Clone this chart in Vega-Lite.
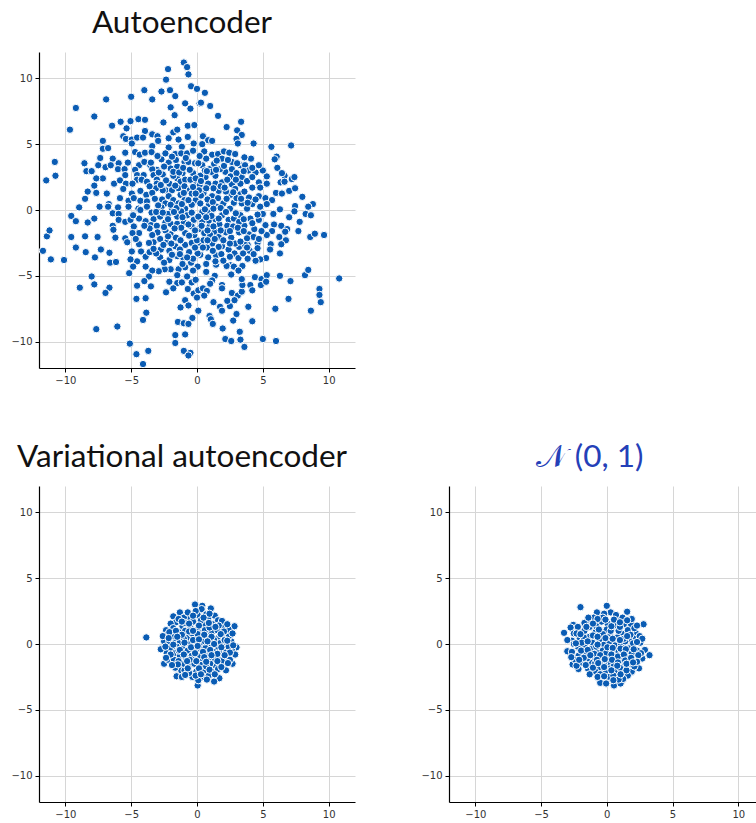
{"$schema":"https://vega.github.io/schema/vega-lite/v6.json","padding":{"left":10,"top":7,"right":0,"bottom":0},"config":{"view":{"stroke":null},"axis":{"domainColor":"#000","domainWidth":1.2,"tickColor":"#000","tickSize":4,"gridColor":"#d6d6d6","gridWidth":1,"labelColor":"#333","labelFont":"DejaVu Sans","labelFontSize":10,"labelPadding":3,"title":null,"grid":true},"title":{"font":"Lato","fontWeight":"normal","fontSize":31.5,"color":"#111","anchor":"middle","offset":13}},
"datasets":{
"a":[{"x":-1.0,"y":11.2},{"x":-0.75,"y":10.85},{"x":-0.65,"y":10.3},{"x":-2.2,"y":10.7},{"x":-2.35,"y":9.9},{"x":-4.0,"y":9.1},{"x":-2.7,"y":9.0},{"x":-2.05,"y":9.1},{"x":-1.65,"y":8.65},{"x":-0.45,"y":9.4},{"x":0,"y":9.2},{"x":0.6,"y":8.9},{"x":0.2,"y":8.1},{"x":-0.9,"y":8.1},{"x":-0.5,"y":7.7},{"x":-2.0,"y":7.8},{"x":-1.7,"y":7.2},{"x":-3.4,"y":8.4},{"x":-5.0,"y":8.6},{"x":-6.9,"y":8.4},{"x":-9.2,"y":7.75},{"x":-7.8,"y":7.1},{"x":-9.65,"y":6.1},{"x":0.3,"y":8.15},{"x":1,"y":7.9},{"x":1.6,"y":7.15},{"x":3.35,"y":6.7},{"x":2.25,"y":6.3},{"x":3.05,"y":6.05},{"x":3.4,"y":5.7},{"x":3,"y":5.4},{"x":3.1,"y":5.05},{"x":4.3,"y":5.05},{"x":5.65,"y":4.8},{"x":7.15,"y":4.9},{"x":-2.55,"y":6.65},{"x":-6.45,"y":6.4},{"x":-5.8,"y":6.7},{"x":-5.05,"y":6.75},{"x":-4.45,"y":6.9},{"x":-3.95,"y":6.85},{"x":-5.35,"y":6.2},{"x":-3.95,"y":6},{"x":-3.4,"y":5.75},{"x":-3,"y":5.6},{"x":-2.95,"y":5.25},{"x":-5.6,"y":5.6},{"x":-5.4,"y":5.4},{"x":-4.95,"y":5.35},{"x":-4.55,"y":5.5},{"x":-4.1,"y":5.5},{"x":-4.95,"y":5.05},{"x":-7.15,"y":5.25},{"x":-7.15,"y":4.65},{"x":-6.75,"y":4.7},{"x":-3.4,"y":4.85},{"x":-2.15,"y":4.75},{"x":-1.8,"y":5.9},{"x":-1.5,"y":6.1},{"x":-0.7,"y":6.4},{"x":-0.2,"y":6.45},{"x":-1.4,"y":5.35},{"x":-0.7,"y":5.55},{"x":-0.25,"y":5.05},{"x":-1.15,"y":4.8},{"x":-2.15,"y":5.45},{"x":-5.45,"y":4.35},{"x":-7.35,"y":3.95},{"x":-6.4,"y":3.9},{"x":-4.7,"y":4.4},{"x":-4.35,"y":4.2},{"x":-3.95,"y":4.35},{"x":-3.45,"y":4.4},{"x":-2.7,"y":3.85},{"x":-2.4,"y":4.3},{"x":-1.65,"y":4.25},{"x":-1.2,"y":4.3},{"x":-0.75,"y":4.3},{"x":-0.3,"y":4.5},{"x":-5.95,"y":3.55},{"x":-5.25,"y":3.6},{"x":-4.4,"y":3.4},{"x":-4,"y":3.65},{"x":-3.55,"y":3.4},{"x":-3.05,"y":3.05},{"x":-2.15,"y":3.6},{"x":-2,"y":3.15},{"x":-1.5,"y":3.3},{"x":-0.95,"y":3.65},{"x":-0.65,"y":3.65},{"x":-0.15,"y":3.55},{"x":-7.5,"y":3.4},{"x":-6.95,"y":3.25},{"x":-6.55,"y":3.4},{"x":-6,"y":3.1},{"x":-5.5,"y":3.1},{"x":-5.45,"y":2.65},{"x":-4.7,"y":3.05},{"x":-4.55,"y":2.65},{"x":-4.05,"y":2.65},{"x":-3.4,"y":3.1},{"x":-3.3,"y":2.65},{"x":-7.15,"y":2.4},{"x":-6.3,"y":2},{"x":-5.85,"y":2.25},{"x":-5.4,"y":2},{"x":-4.55,"y":2.3},{"x":-4.2,"y":2.3},{"x":-3.8,"y":2.15},{"x":-3.05,"y":2.3},{"x":-3.05,"y":2},{"x":-2.4,"y":1.5},{"x":-2.1,"y":2},{"x":-1.5,"y":2.4},{"x":-1.25,"y":2.15},{"x":-0.9,"y":2.3},{"x":-0.5,"y":2.3},{"x":-0.1,"y":1.9},{"x":-1.9,"y":1.5},{"x":-1.4,"y":1.65},{"x":-0.95,"y":1.8},{"x":-0.55,"y":1.5},{"x":-6.85,"y":1.25},{"x":-4.95,"y":1.25},{"x":-4.3,"y":1.45},{"x":-3.85,"y":1.15},{"x":-3.1,"y":1.65},{"x":-2.6,"y":1.5},{"x":-2.15,"y":1.05},{"x":-1.8,"y":0.75},{"x":-1.25,"y":1.15},{"x":-0.95,"y":0.75},{"x":-0.4,"y":1.25},{"x":-0.1,"y":0.75},{"x":-5.85,"y":0.9},{"x":-5.2,"y":0.7},{"x":-4.8,"y":0.9},{"x":-4.3,"y":0.7},{"x":-3.8,"y":0.65},{"x":-6.7,"y":0.45},{"x":-6,"y":0.2},{"x":-2.65,"y":0.8},{"x":-2.4,"y":0.5},{"x":-1.4,"y":0.5},{"x":-1.9,"y":0.1},{"x":-0.9,"y":0.1},{"x":-0.4,"y":0.4},{"x":-3.8,"y":0.25},{"x":-4.45,"y":0.1},{"x":-5.2,"y":0.25},{"x":-10.8,"y":3.65},{"x":-10.75,"y":2.6},{"x":-11.45,"y":2.25},{"x":-8.55,"y":3.55},{"x":-8.4,"y":2.95},{"x":-8,"y":2.95},{"x":-7.65,"y":2.4},{"x":-7.8,"y":1.85},{"x":-8.3,"y":1.4},{"x":-7.65,"y":1.3},{"x":-8.5,"y":0.85},{"x":-8.95,"y":0.2},{"x":-9.55,"y":-0.45},{"x":-9.2,"y":-0.85},{"x":-8.3,"y":-0.95},{"x":-7.8,"y":-0.65},{"x":-7.4,"y":0.25},{"x":-6.75,"y":0.25},{"x":-6.4,"y":-0.25},{"x":-5.95,"y":-0.3},{"x":-5.95,"y":-0.75},{"x":-5.45,"y":-0.9},{"x":-5.05,"y":-0.75},{"x":-4.4,"y":-0.65},{"x":-4.85,"y":-0.4},{"x":-4.3,"y":0},{"x":-3.45,"y":-0.2},{"x":-3.3,"y":-0.7},{"x":-3.9,"y":-0.85},{"x":-6.4,"y":-1.2},{"x":-6.35,"y":-1.5},{"x":-4.8,"y":-1.25},{"x":-4.4,"y":-1.75},{"x":-4.9,"y":-1.75},{"x":-6.2,"y":-2.1},{"x":-5.45,"y":-2.15},{"x":-5.3,"y":-2.45},{"x":-3.5,"y":-1.15},{"x":-3.05,"y":-1.2},{"x":-2.4,"y":-0.95},{"x":-2,"y":-1.05},{"x":-1.5,"y":-1.05},{"x":-1,"y":-0.95},{"x":-1.5,"y":-0.5},{"x":-0.75,"y":-0.4},{"x":-0.25,"y":-0.75},{"x":-0.9,"y":-1.75},{"x":-0.4,"y":-1.25},{"x":-2,"y":-1.85},{"x":-2.4,"y":-1.55},{"x":-2.8,"y":-2.2},{"x":-3.3,"y":-2.45},{"x":-3.65,"y":-2.5},{"x":-2.25,"y":-2.4},{"x":-1.65,"y":-2.75},{"x":-0.9,"y":-2.65},{"x":-0.4,"y":-2.5},{"x":-2.75,"y":-3},{"x":-2.1,"y":-3.1},{"x":-1.5,"y":-3.5},{"x":-1.05,"y":-3.6},{"x":-2.8,"y":-3.6},{"x":-2.1,"y":-3.8},{"x":-4.95,"y":-3.15},{"x":-4.25,"y":-3.15},{"x":-3.9,"y":-3.55},{"x":-4.55,"y":-3.9},{"x":-5.05,"y":-3.75},{"x":-4.85,"y":-4.3},{"x":-0.45,"y":-4},{"x":-0.9,"y":-4.35},{"x":-1.4,"y":-4.5},{"x":-2,"y":-4.5},{"x":-2.45,"y":-4.5},{"x":-2.9,"y":-4.65},{"x":-3.4,"y":-4.6},{"x":-1.5,"y":-4.95},{"x":-2.1,"y":-5.45},{"x":-1.5,"y":-5.55},{"x":-1.15,"y":-5.5},{"x":-0.75,"y":-5.05},{"x":-0.4,"y":-5.5},{"x":-0.1,"y":-5.3},{"x":-3.65,"y":-5.05},{"x":-4,"y":-5.4},{"x":-3.5,"y":-5.8},{"x":-4.55,"y":-5.75},{"x":-1.8,"y":-5.95},{"x":-2.35,"y":-6.25},{"x":-0.7,"y":-6},{"x":-0.25,"y":-6.35},{"x":-11.7,"y":-3.1},{"x":-11.1,"y":-3.75},{"x":-10.1,"y":-3.8},{"x":-11.4,"y":-2},{"x":-11.2,"y":-1.55},{"x":-9.55,"y":-2.05},{"x":-8.5,"y":-2},{"x":-7.55,"y":-2.05},{"x":-9.2,"y":-2.85},{"x":-8.45,"y":-3.2},{"x":-7.75,"y":-3.6},{"x":-7.3,"y":-3},{"x":-6.65,"y":-3.25},{"x":-6.6,"y":-4},{"x":-6.15,"y":-3.95},{"x":-8,"y":-5.05},{"x":-7.8,"y":-5.65},{"x":-8.9,"y":-5.9},{"x":-6.65,"y":-5.9},{"x":-6.95,"y":-6.3},{"x":-5.15,"y":-4.8},{"x":-4.6,"y":-6.75},{"x":-3.9,"y":-6.7},{"x":-3.85,"y":-7.8},{"x":-4.1,"y":-8.35},{"x":-7.65,"y":-9.05},{"x":-6.05,"y":-8.85},{"x":-5.1,"y":-10.15},{"x":-4.6,"y":-10.95},{"x":-3.7,"y":-10.7},{"x":-4.1,"y":-11.7},{"x":-0.9,"y":-6.85},{"x":-0.65,"y":-7.25},{"x":-1.25,"y":-7.4},{"x":0.1,"y":-7.65},{"x":-0.35,"y":-8.2},{"x":-1.45,"y":-8.5},{"x":-1,"y":-8.6},{"x":-0.65,"y":-8.65},{"x":-1.65,"y":-9.5},{"x":-0.9,"y":-9.45},{"x":-1.65,"y":-10.1},{"x":-1,"y":-10.7},{"x":-0.5,"y":-10.85},{"x":-0.65,"y":-11.05},{"x":0.45,"y":5.6},{"x":0.85,"y":5.3},{"x":1.15,"y":5.25},{"x":0.4,"y":5},{"x":0.55,"y":4.45},{"x":1.15,"y":4.2},{"x":1.6,"y":4.25},{"x":2.05,"y":4.45},{"x":2.45,"y":4.35},{"x":2.9,"y":4.25},{"x":1.9,"y":3.9},{"x":2.65,"y":3.65},{"x":3.3,"y":3.4},{"x":3.65,"y":3.4},{"x":4.1,"y":3.9},{"x":0.4,"y":3.4},{"x":0.1,"y":3.55},{"x":0.95,"y":3.1},{"x":2.15,"y":2.9},{"x":2.65,"y":3.1},{"x":1.75,"y":3.1},{"x":1.4,"y":2.6},{"x":0.65,"y":2.5},{"x":0.25,"y":2.6},{"x":2.55,"y":2.55},{"x":3.4,"y":2.5},{"x":3.8,"y":2.2},{"x":4.45,"y":2.85},{"x":5.3,"y":2.55},{"x":4.7,"y":2.1},{"x":5.3,"y":2},{"x":4.2,"y":1.7},{"x":3.3,"y":2},{"x":2.65,"y":1.95},{"x":1.9,"y":2.1},{"x":1.4,"y":2},{"x":0.85,"y":2},{"x":0.2,"y":1.9},{"x":0.5,"y":1.3},{"x":1.15,"y":1.05},{"x":1.65,"y":1.45},{"x":2.55,"y":1.15},{"x":3.3,"y":1.2},{"x":3.95,"y":0.95},{"x":4.7,"y":1.05},{"x":5.2,"y":0.9},{"x":5.7,"y":0.75},{"x":5.3,"y":0.45},{"x":4.8,"y":0.25},{"x":4.2,"y":0.45},{"x":3.4,"y":0.5},{"x":2.8,"y":0.55},{"x":2,"y":0.5},{"x":1.5,"y":0.25},{"x":0.9,"y":0.45},{"x":0.25,"y":0.5},{"x":6.05,"y":4.05},{"x":5.9,"y":3.85},{"x":6.1,"y":3.2},{"x":6.65,"y":2.6},{"x":7.2,"y":2.35},{"x":6.35,"y":2.1},{"x":6,"y":1.3},{"x":6.45,"y":1.25},{"x":7,"y":1.45},{"x":7.45,"y":1.65},{"x":6.45,"y":2.8},{"x":7.4,"y":2.5},{"x":6.65,"y":2.15},{"x":8,"y":1},{"x":8.8,"y":0.45},{"x":8.45,"y":0.25},{"x":7.45,"y":0.3},{"x":6.3,"y":0.05},{"x":7.4,"y":-0.1},{"x":7,"y":-0.55},{"x":8.25,"y":-0.3},{"x":8.65,"y":-0.4},{"x":7.8,"y":-0.9},{"x":7.7,"y":-1.6},{"x":6.4,"y":-1.2},{"x":6.85,"y":-1.45},{"x":6.7,"y":-1.65},{"x":5.85,"y":-1.1},{"x":5.2,"y":-1.15},{"x":5.7,"y":-1.6},{"x":5.3,"y":-1.9},{"x":6.25,"y":-2.05},{"x":6.75,"y":-2.3},{"x":6.4,"y":-2.6},{"x":5.6,"y":-2.6},{"x":5.55,"y":-3},{"x":6.3,"y":-3.3},{"x":8.6,"y":-2.05},{"x":8.95,"y":-1.8},{"x":9.65,"y":-1.9},{"x":5.25,"y":-3.65},{"x":4.8,"y":-3.75},{"x":4.45,"y":-3.85},{"x":4.6,"y":-2.5},{"x":4.6,"y":-2.9},{"x":4,"y":-3.1},{"x":3.85,"y":-2.65},{"x":3.2,"y":-2.8},{"x":0.4,"y":-0.15},{"x":0.9,"y":-0.2},{"x":1.9,"y":-0.4},{"x":2.4,"y":-0.75},{"x":2.8,"y":-0.65},{"x":3.3,"y":-0.4},{"x":4.05,"y":-0.65},{"x":4.7,"y":-0.75},{"x":5.8,"y":-0.3},{"x":2.3,"y":-1.2},{"x":2.75,"y":-1.25},{"x":3.2,"y":-1.7},{"x":3.95,"y":-1.85},{"x":4.35,"y":-1.45},{"x":4.3,"y":-2.05},{"x":3.8,"y":-2.15},{"x":2.9,"y":-2.55},{"x":3.65,"y":-2.65},{"x":3.8,"y":-2.85},{"x":3.3,"y":-2.4},{"x":0.15,"y":-1.45},{"x":0.55,"y":-1.75},{"x":0.95,"y":-1.25},{"x":1.35,"y":-1.65},{"x":1.65,"y":-2.05},{"x":1.9,"y":-2.75},{"x":1.65,"y":-2.8},{"x":1.15,"y":-2.55},{"x":0.75,"y":-2.85},{"x":0.25,"y":-2.55},{"x":0,"y":-2.3},{"x":0.25,"y":-3.4},{"x":0.85,"y":-3.6},{"x":1.45,"y":-3.45},{"x":1.85,"y":-3.35},{"x":2.85,"y":-3.3},{"x":3.15,"y":-3.65},{"x":2.55,"y":-4.2},{"x":2.25,"y":-4.25},{"x":2.8,"y":-4.3},{"x":3.45,"y":-4.25},{"x":1.45,"y":-4.15},{"x":0.7,"y":-4.1},{"x":0.05,"y":-3.3},{"x":0.05,"y":-4.3},{"x":0.7,"y":-4.7},{"x":1.35,"y":-5},{"x":2.6,"y":-4.9},{"x":3.15,"y":-4.6},{"x":1.9,"y":-5.7},{"x":1.9,"y":-5.95},{"x":1.15,"y":-5.35},{"x":1,"y":-5.6},{"x":0.1,"y":-6.1},{"x":0.45,"y":-5.95},{"x":0.75,"y":-6.15},{"x":0.55,"y":-6.5},{"x":0,"y":-6.65},{"x":2.65,"y":-6.3},{"x":3.1,"y":-6.5},{"x":3.4,"y":-6.2},{"x":3.45,"y":-5.7},{"x":3.4,"y":-5.25},{"x":4.4,"y":-5.1},{"x":4.9,"y":-5.25},{"x":5.3,"y":-4.95},{"x":4.85,"y":-5.7},{"x":5.25,"y":-5.45},{"x":4.05,"y":-5.7},{"x":4.2,"y":-6.1},{"x":6.3,"y":-5},{"x":7.1,"y":-5.4},{"x":6.95,"y":-6.75},{"x":8.2,"y":-4.95},{"x":8.45,"y":-4.55},{"x":10.8,"y":-5.2},{"x":9.3,"y":-6},{"x":9.3,"y":-6.45},{"x":9.4,"y":-7},{"x":8.65,"y":-7.65},{"x":5.95,"y":-7.5},{"x":1.25,"y":-7},{"x":1.75,"y":-7.35},{"x":1.9,"y":-7.65},{"x":2.5,"y":-7.3},{"x":2.3,"y":-6.9},{"x":2.85,"y":-6.85},{"x":3.9,"y":-7.35},{"x":0.95,"y":-8.05},{"x":1.05,"y":-8.3},{"x":1.2,"y":-8.65},{"x":3,"y":-7.9},{"x":2.75,"y":-8.4},{"x":4.2,"y":-8.45},{"x":1.95,"y":-9},{"x":3.25,"y":-9.25},{"x":2.15,"y":-9.8},{"x":2.6,"y":-9.95},{"x":3.3,"y":-9.85},{"x":3.6,"y":-10.4},{"x":5,"y":-9.8},{"x":6,"y":-9.95},{"x":-0.3,"y":2.8},{"x":0.6,"y":3},{"x":1.1,"y":2.9},{"x":-1.1,"y":2.8},{"x":-1.8,"y":2.6},{"x":-2.6,"y":2.7},{"x":-2.5,"y":3.3},{"x":-1,"y":1.3},{"x":0.3,"y":1.1},{"x":0.8,"y":0.8},{"x":1.6,"y":0.9},{"x":2.2,"y":1.4},{"x":2.9,"y":1.6},{"x":3.6,"y":1.4},{"x":3,"y":0.9},{"x":1.8,"y":1.8},{"x":2.3,"y":2.3},{"x":3,"y":2.8},{"x":3.9,"y":3},{"x":4.2,"y":2.5},{"x":1.3,"y":3.5},{"x":0.7,"y":3.9},{"x":-0.4,"y":-0.2},{"x":-1.2,"y":-0.1},{"x":-2.2,"y":-0.3},{"x":-2.8,"y":-0.5},{"x":-2.7,"y":0.2},{"x":0.9,"y":-0.8},{"x":1.4,"y":-0.7},{"x":1.7,"y":-1.1},{"x":0.4,"y":-0.9},{"x":-0.2,"y":-1.9},{"x":0.5,"y":-2.3},{"x":1,"y":-1.9},{"x":2.2,"y":-1.7},{"x":2.6,"y":-2.1},{"x":2,"y":-2.3},{"x":2.4,"y":-3},{"x":1.2,"y":-3.1},{"x":-0.6,"y":-3.2},{"x":-1.3,"y":-3},{"x":-1.6,"y":-2.1},{"x":-3,"y":-1.7},{"x":-3.4,"y":-1.9},{"x":-3.6,"y":-3.2},{"x":-3.1,"y":-3.3},{"x":-2.5,"y":-4},{"x":-1.1,"y":-4.1},{"x":-0.3,"y":-3.7},{"x":3.6,"y":-1.2},{"x":3.2,"y":-0.9},{"x":4.9,"y":-1.6},{"x":4.7,"y":-2.2},{"x":4.2,"y":-1},{"x":5,"y":-0.3},{"x":3.8,"y":0.1},{"x":2.5,"y":0.1},{"x":1.2,"y":0.6},{"x":-1.6,"y":3.8},{"x":-3,"y":4.1},{"x":-3.6,"y":1.8},{"x":-4.9,"y":2},{"x":-2.5,"y":-1.3},{"x":-5.6,"y":1.6},{"x":4.8,"y":1.7},{"x":5,"y":3},{"x":3.6,"y":4},{"x":-3.9,"y":-4.3},{"x":-4.4,"y":-2.6},{"x":-1.8,"y":2.9},{"x":-1.35,"y":2.85},{"x":-1.05,"y":3.2},{"x":-0.55,"y":3.05},{"x":-0.1,"y":2.4},{"x":0.3,"y":2.2},{"x":0.75,"y":2.95},{"x":1.45,"y":3.05},{"x":2.05,"y":3.35},{"x":3.05,"y":3.55},{"x":3.55,"y":2.95},{"x":2.95,"y":2.3},{"x":2.1,"y":1.7},{"x":1.25,"y":1.65},{"x":0.7,"y":1.65},{"x":0.15,"y":1.5},{"x":-0.3,"y":1.75},{"x":-1.65,"y":1.85},{"x":-2.35,"y":2.25},{"x":-2.75,"y":1.9},{"x":-3.4,"y":1.3},{"x":-3.2,"y":0.85},{"x":-2.95,"y":0.35},{"x":-3.1,"y":-0.15},{"x":-2.6,"y":-0.2},{"x":-2,"y":0.4},{"x":-1.55,"y":0.15},{"x":-1.15,"y":0.45},{"x":-0.65,"y":0.75},{"x":-0.1,"y":1.25},{"x":0.6,"y":0.05},{"x":1.25,"y":0.1},{"x":1.8,"y":0.15},{"x":2.25,"y":0.85},{"x":2.75,"y":1.35},{"x":3.35,"y":0.85},{"x":3.85,"y":0.55},{"x":4.45,"y":0.8},{"x":4.6,"y":-0.35},{"x":3.55,"y":-0.7},{"x":2.95,"y":-0.25},{"x":2.2,"y":-0.15},{"x":1.65,"y":-0.65},{"x":1.1,"y":-0.45},{"x":0.7,"y":-0.55},{"x":0.1,"y":-0.5},{"x":-0.65,"y":-1.1},{"x":-1.2,"y":-1.35},{"x":-1.7,"y":-1.4},{"x":-2.2,"y":-2},{"x":-2.55,"y":-2.65},{"x":-1.95,"y":-2.55},{"x":-1.25,"y":-2.3},{"x":-0.6,"y":-1.95},{"x":-0.15,"y":-1.55},{"x":0.35,"y":-1.2},{"x":0.8,"y":-1.55},{"x":1.25,"y":-1.25},{"x":1.8,"y":-1.55},{"x":2.5,"y":-1.6},{"x":3.1,"y":-1.35},{"x":3.55,"y":-1.6},{"x":2.5,"y":-2.55},{"x":1.35,"y":-2.2},{"x":0.8,"y":-2.3},{"x":0.45,"y":-2.85},{"x":-0.15,"y":-2.85},{"x":-0.75,"y":-3.6},{"x":-1.3,"y":-3.35},{"x":-1.9,"y":-3.4},{"x":-3.3,"y":-2.95},{"x":-3.6,"y":-1.4},{"x":-4,"y":-1.2},{"x":-4.65,"y":-2.2},{"x":-2.2,"y":-0.7},{"x":-1.75,"y":-0.15},{"x":-1.1,"y":-0.55},{"x":-2.9,"y":2.85},{"x":-3.5,"y":3.6},{"x":-1.9,"y":4.05},{"x":-0.85,"y":3.95},{"x":0.2,"y":4.1},{"x":1.5,"y":3.75},{"x":2.35,"y":3.8},{"x":4.2,"y":3.2},{"x":4.7,"y":3.4},{"x":1.4,"y":-3.9},{"x":2,"y":-3.85},{"x":2.5,"y":-3.55},{"x":3.5,"y":-3.3},{"x":3.85,"y":-3.7},{"x":4.3,"y":-3.35},{"x":-0.3,"y":-4.6}],
"b":[{"x":-3.85,"y":0.5},{"x":-0.15,"y":3},{"x":0.4,"y":2.9},{"x":1.05,"y":2.7},{"x":0.35,"y":2.65},{"x":-1.3,"y":2.4},{"x":-0.65,"y":2},{"x":-1.8,"y":2.1},{"x":0.05,"y":2.2},{"x":0.7,"y":2.25},{"x":1.35,"y":2.15},{"x":2.85,"y":1.35},{"x":2.4,"y":1.1},{"x":1.95,"y":1.4},{"x":1.2,"y":1.5},{"x":0.6,"y":1.5},{"x":0,"y":1.1},{"x":-0.5,"y":1.25},{"x":-1.1,"y":1.35},{"x":-1.6,"y":1.65},{"x":-2,"y":1.55},{"x":-2.35,"y":1.05},{"x":-2.25,"y":0.7},{"x":-2.5,"y":0.2},{"x":-2.75,"y":-0.4},{"x":-2,"y":-0.3},{"x":-1.7,"y":0.25},{"x":-1.1,"y":-0.35},{"x":-0.75,"y":0.45},{"x":-0.2,"y":0.5},{"x":0.35,"y":0.1},{"x":1,"y":-0.05},{"x":0.85,"y":0.65},{"x":1.15,"y":0.95},{"x":1.9,"y":0.5},{"x":2.6,"y":0.2},{"x":2.4,"y":0.55},{"x":3,"y":-0.25},{"x":2.65,"y":-0.45},{"x":2.15,"y":-0.6},{"x":2.9,"y":-0.8},{"x":2.7,"y":-1.5},{"x":2.1,"y":-1.6},{"x":1.85,"y":-0.95},{"x":1.55,"y":-0.4},{"x":0.8,"y":-0.8},{"x":0.05,"y":-1.15},{"x":-0.6,"y":-1.6},{"x":-1.2,"y":-2},{"x":-2,"y":-1.05},{"x":-2.5,"y":-1.5},{"x":-1.65,"y":-1.8},{"x":-1.55,"y":-2.45},{"x":-0.85,"y":-1.1},{"x":-0.35,"y":-2.5},{"x":0.5,"y":-2.05},{"x":1.15,"y":-2.1},{"x":1.35,"y":-1.6},{"x":1.7,"y":-2.6},{"x":1.3,"y":-2.85},{"x":0.05,"y":-3.15},{"x":0.1,"y":-2.75},{"x":-0.95,"y":-2},{"x":-1,"y":2},{"x":-0.3,"y":1.7},{"x":0.3,"y":1.8},{"x":-0.7,"y":2.4},{"x":0.85,"y":1.9},{"x":1.6,"y":1.8},{"x":-1.4,"y":1.9},{"x":-1.8,"y":1.2},{"x":-1.4,"y":0.9},{"x":-0.9,"y":1},{"x":-0.4,"y":0.8},{"x":0.3,"y":0.8},{"x":0.6,"y":1.05},{"x":1.55,"y":1.05},{"x":2.05,"y":0.95},{"x":1.5,"y":0.4},{"x":0.4,"y":0.5},{"x":-0.1,"y":0.1},{"x":-0.5,"y":0},{"x":-1.3,"y":0.15},{"x":-2.1,"y":0.2},{"x":-1.55,"y":-0.2},{"x":-0.7,"y":-0.5},{"x":-0.2,"y":-0.4},{"x":0.3,"y":-0.4},{"x":0.65,"y":-0.3},{"x":1.25,"y":-0.6},{"x":2.15,"y":-0.1},{"x":1.7,"y":0.05},{"x":2.4,"y":-0.2},{"x":-2.3,"y":-0.7},{"x":-1.7,"y":-0.7},{"x":-1.3,"y":-0.9},{"x":-0.4,"y":-0.9},{"x":0.4,"y":-1.2},{"x":1.3,"y":-1.1},{"x":1,"y":-1.5},{"x":1.9,"y":-1.3},{"x":2.35,"y":-1},{"x":-2.2,"y":-1.2},{"x":-1.75,"y":-1.2},{"x":-1,"y":-1.5},{"x":-0.2,"y":-1.5},{"x":0.3,"y":-1.6},{"x":0.7,"y":-1.7},{"x":-0.05,"y":-2.1},{"x":-0.6,"y":-2.2},{"x":-1.15,"y":-2.5},{"x":0.55,"y":-2.5},{"x":0.9,"y":-2.4},{"x":1.6,"y":-1.9},{"x":2.2,"y":-2},{"x":0.6,"y":0.2},{"x":-0.9,"y":1.6},{"x":-1.9,"y":0.6},{"x":-2.6,"y":0.6},{"x":-1,"y":0.4},{"x":1.3,"y":0.3},{"x":2.7,"y":0.8},{"x":-1.4,"y":-1.3},{"x":-0.1,"y":2.5},{"x":0.95,"y":2.3},{"x":1.9,"y":1.75},{"x":2.3,"y":1.5},{"x":-2.1,"y":0.9},{"x":-1.4,"y":-0.5},{"x":0.2,"y":-0.85},{"x":0.9,"y":-1},{"x":-0.55,"y":-1.2},{"x":2.5,"y":-1.2},{"x":1.7,"y":-0.7},{"x":-0.3,"y":2.15},{"x":0.5,"y":2},{"x":-1.15,"y":1.7},{"x":-0.6,"y":1.55},{"x":0.15,"y":1.4},{"x":0.95,"y":1.25},{"x":1.65,"y":1.4},{"x":-1.6,"y":1},{"x":-1.15,"y":0.7},{"x":-0.6,"y":0.95},{"x":0.05,"y":0.75},{"x":0.55,"y":0.7},{"x":1.1,"y":0.55},{"x":1.8,"y":0.75},{"x":2.1,"y":0.3},{"x":-2.15,"y":0.45},{"x":-1.5,"y":0.55},{"x":-0.95,"y":0.1},{"x":-0.3,"y":0.3},{"x":0.15,"y":0.35},{"x":0.8,"y":0.2},{"x":1.3,"y":0},{"x":1.85,"y":-0.25},{"x":-2.4,"y":-0.2},{"x":-1.8,"y":-0.05},{"x":-1.3,"y":-0.45},{"x":-0.45,"y":-0.25},{"x":0.05,"y":-0.15},{"x":0.45,"y":-0.6},{"x":1,"y":-0.45},{"x":1.55,"y":-0.75},{"x":2.5,"y":-0.65},{"x":-2,"y":-0.8},{"x":-1,"y":-0.8},{"x":-0.15,"y":-0.7},{"x":0.55,"y":-1},{"x":1.1,"y":-0.85},{"x":2.1,"y":-0.85},{"x":-2.35,"y":-1.05},{"x":-1.45,"y":-1.55},{"x":-0.75,"y":-1.3},{"x":-0.05,"y":-1.3},{"x":0.7,"y":-1.35},{"x":1.55,"y":-1.3},{"x":2.35,"y":-1.45},{"x":-1.9,"y":-1.6},{"x":-0.7,"y":-1.85},{"x":0.15,"y":-1.85},{"x":0.95,"y":-1.95},{"x":1.85,"y":-1.75},{"x":-0.9,"y":-2.35},{"x":-0.1,"y":-2.4},{"x":0.3,"y":-2.3},{"x":1.35,"y":-2.3},{"x":0.75,"y":-2.7},{"x":-0.3,"y":1},{"x":0.9,"y":1.6},{"x":1.4,"y":1.3},{"x":2.3,"y":0.25},{"x":2.75,"y":-0.1}],
"c":[{"x":-2,"y":2.8},{"x":0,"y":2.9},{"x":1.55,"y":2.45},{"x":-0.75,"y":2.4},{"x":0.3,"y":2.4},{"x":-0.2,"y":2.3},{"x":-1.2,"y":1.75},{"x":-2.55,"y":1.45},{"x":-2.75,"y":1.25},{"x":-3.25,"y":0.85},{"x":-2.5,"y":0.8},{"x":-1.8,"y":1},{"x":-0.85,"y":0.9},{"x":0.05,"y":1.55},{"x":0.8,"y":1.8},{"x":1.85,"y":1.5},{"x":2.8,"y":1.5},{"x":1.25,"y":0.75},{"x":0.25,"y":0.6},{"x":-0.5,"y":0.3},{"x":-2.05,"y":0.4},{"x":-2.65,"y":0.25},{"x":-3,"y":-0.55},{"x":-2.65,"y":-0.6},{"x":-1.7,"y":-0.15},{"x":-0.75,"y":-0.65},{"x":-0.2,"y":-0.05},{"x":0.6,"y":-0.1},{"x":1.1,"y":-0.05},{"x":2.55,"y":0.1},{"x":2.9,"y":-0.45},{"x":3.25,"y":-0.85},{"x":2.7,"y":-1.1},{"x":2.45,"y":-1.85},{"x":1.9,"y":-2.1},{"x":1.55,"y":-1},{"x":0.15,"y":-1},{"x":-0.55,"y":-1.75},{"x":-2.15,"y":-0.9},{"x":-2.6,"y":-1.55},{"x":-2.15,"y":-1.9},{"x":-1.45,"y":-1.85},{"x":-0.9,"y":-2.05},{"x":-0.1,"y":-2.1},{"x":0.75,"y":-2.1},{"x":1.2,"y":-2.45},{"x":1.6,"y":-2.4},{"x":-0.5,"y":-2.95},{"x":-0.05,"y":-3},{"x":0.55,"y":-3.15},{"x":1.05,"y":-3},{"x":1.25,"y":-2.65},{"x":-1.3,"y":1.3},{"x":-0.4,"y":1.7},{"x":0.6,"y":1.4},{"x":1.3,"y":1.5},{"x":1.6,"y":1.05},{"x":2.2,"y":0.85},{"x":2.1,"y":0.4},{"x":1.7,"y":0.3},{"x":0.8,"y":0.5},{"x":0,"y":1.1},{"x":-0.3,"y":0.75},{"x":-1.3,"y":0.55},{"x":-1.75,"y":0.5},{"x":-1.1,"y":0.1},{"x":-2.2,"y":-0.2},{"x":-1.2,"y":-0.4},{"x":-0.3,"y":-0.5},{"x":0.3,"y":-0.5},{"x":0.9,"y":-0.6},{"x":1.8,"y":-0.3},{"x":2.3,"y":-0.5},{"x":2.1,"y":-1.1},{"x":1.1,"y":-1.2},{"x":0.6,"y":-1},{"x":-0.4,"y":-1.1},{"x":-1.1,"y":-1},{"x":-1.6,"y":-0.7},{"x":-1.9,"y":-1.4},{"x":-1.3,"y":-1.4},{"x":-0.5,"y":-2.3},{"x":0.2,"y":-1.7},{"x":0.5,"y":-1.5},{"x":1.3,"y":-1.7},{"x":1.8,"y":-1.5},{"x":0.2,"y":-2.5},{"x":-0.3,"y":2},{"x":0.7,"y":2.2},{"x":1.2,"y":2},{"x":-1,"y":2},{"x":-1.7,"y":1.6},{"x":-2.2,"y":1.3},{"x":2.1,"y":1.2},{"x":2.5,"y":0.6},{"x":1.9,"y":-0.7},{"x":1.4,"y":0.2},{"x":0.2,"y":0.2},{"x":-0.8,"y":1.35},{"x":0.3,"y":1},{"x":0.9,"y":1},{"x":-0.05,"y":-0.7},{"x":-0.9,"y":-1.5},{"x":-1.5,"y":-1.1},{"x":-2.4,"y":-1.2},{"x":-0.8,"y":-0.2},{"x":0.1,"y":-1.35},{"x":1,"y":-1.8},{"x":1.5,"y":-2},{"x":-1.3,"y":-2.3},{"x":0.5,"y":-2.4},{"x":-0.2,"y":-1.4},{"x":-1.7,"y":1},{"x":-2.3,"y":0.8},{"x":1.8,"y":0.7},{"x":1,"y":1.3},{"x":1.3,"y":0.4},{"x":-0.7,"y":1.9},{"x":-1.4,"y":2},{"x":1.9,"y":1.9},{"x":2.3,"y":1.4},{"x":1.05,"y":-0.9},{"x":-2.7,"y":-1},{"x":-2.3,"y":-1.65},{"x":0.9,"y":-2.7},{"x":2.1,"y":-1.7},{"x":2.6,"y":-0.7},{"x":2.7,"y":0.4},{"x":-1.9,"y":0.1},{"x":-2.5,"y":0},{"x":-3,"y":0.3},{"x":-1.05,"y":1.55},{"x":-0.6,"y":1.1},{"x":-0.1,"y":1.85},{"x":0.35,"y":1.35},{"x":0.55,"y":1.85},{"x":1,"y":1.65},{"x":1.55,"y":1.8},{"x":-1.55,"y":1.3},{"x":-2,"y":0.75},{"x":-1.05,"y":0.65},{"x":-0.7,"y":0.55},{"x":-0.1,"y":0.45},{"x":0.45,"y":0.4},{"x":1,"y":0.3},{"x":1.55,"y":0.6},{"x":2,"y":0.05},{"x":2.3,"y":0.15},{"x":-2.35,"y":0.05},{"x":-1.45,"y":0.2},{"x":-0.7,"y":-0.05},{"x":0.05,"y":-0.25},{"x":0.45,"y":-0.3},{"x":1.05,"y":-0.35},{"x":1.45,"y":-0.4},{"x":-1.95,"y":-0.5},{"x":-1.45,"y":-0.45},{"x":-0.95,"y":-0.75},{"x":-0.5,"y":-0.85},{"x":0.35,"y":-0.8},{"x":0.85,"y":-0.95},{"x":1.3,"y":-0.8},{"x":2.05,"y":-0.4},{"x":2.4,"y":-0.85},{"x":-1.75,"y":-1.05},{"x":-1.25,"y":-0.85},{"x":-0.75,"y":-1.2},{"x":-0.15,"y":-1.15},{"x":0.4,"y":-1.2},{"x":0.85,"y":-1.4},{"x":1.4,"y":-1.25},{"x":1.85,"y":-1.05},{"x":2.3,"y":-1.35},{"x":-2.1,"y":-1.2},{"x":-1.6,"y":-1.6},{"x":-1.05,"y":-1.8},{"x":-0.65,"y":-1.45},{"x":-0.2,"y":-1.75},{"x":0.35,"y":-2},{"x":0.8,"y":-1.65},{"x":1.5,"y":-1.5},{"x":2,"y":-1.4},{"x":-0.7,"y":-2.5},{"x":-0.2,"y":-2.45},{"x":0.5,"y":-2.75},{"x":1.05,"y":-2.3}]
},
"spacing":56,
"vconcat":[
{"width":316,"height":316,"data":{"name":"a"},"title":{"text":"Autoencoder","dx":-15},"mark":{"type":"point","filled":true,"size":54,"color":"#0a5cb4","stroke":"#ffffff","strokeWidth":1,"opacity":1},"encoding":{"x":{"field":"x","type":"quantitative","scale":{"domain":[-12,12],"nice":false,"zero":false},"axis":{"values":[-10,-5,0,5,10]}},"y":{"field":"y","type":"quantitative","scale":{"domain":[-12,12],"nice":false,"zero":false},"axis":{"values":[-10,-5,0,5,10]}}}},
{"spacing":65,"hconcat":[
{"width":316,"height":316,"data":{"name":"b"},"title":{"text":"Variational autoencoder","dx":-15},"mark":{"type":"point","filled":true,"size":54,"color":"#0a5cb4","stroke":"#ffffff","strokeWidth":1,"opacity":1},"encoding":{"x":{"field":"x","type":"quantitative","scale":{"domain":[-12,12],"nice":false,"zero":false},"axis":{"values":[-10,-5,0,5,10]}},"y":{"field":"y","type":"quantitative","scale":{"domain":[-12,12],"nice":false,"zero":false},"axis":{"values":[-10,-5,0,5,10]}}}},
{"width":307,"height":316,"data":{"name":"c"},"title":{"text":"𝒩 (0, 1)","dx":-13,"color":"#2440b8"},"mark":{"type":"point","filled":true,"size":54,"color":"#0a5cb4","stroke":"#ffffff","strokeWidth":1,"opacity":1},"encoding":{"x":{"field":"x","type":"quantitative","scale":{"domain":[-12,11.35],"nice":false,"zero":false},"axis":{"values":[-10,-5,0,5,10]}},"y":{"field":"y","type":"quantitative","scale":{"domain":[-12,12],"nice":false,"zero":false},"axis":{"values":[-10,-5,0,5,10]}}}}
]}
]}
